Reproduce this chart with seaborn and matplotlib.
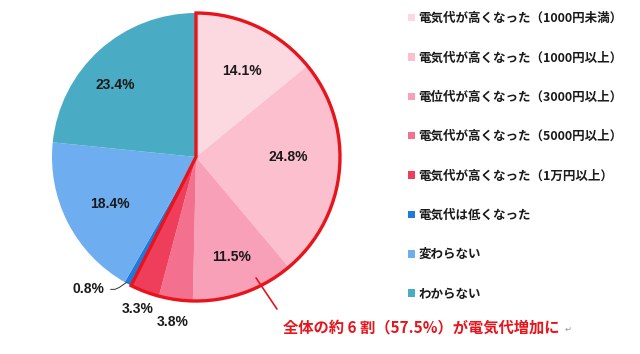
import numpy as np
import matplotlib
matplotlib.use("Agg")
import matplotlib.pyplot as plt
from matplotlib.patches import Wedge
import seaborn as sns

categories = [
    "電気代が高くなった（1000円未満）",
    "電気代が高くなった（1000円以上）",
    "電位代が高くなった（3000円以上）",
    "電気代が高くなった（5000円以上）",
    "電気代が高くなった（1万円以上）",
    "電気代は低くなった",
    "変わらない",
    "わからない",
]
values = [14.1, 24.8, 11.5, 3.8, 3.3, 0.8, 18.4, 23.4]
colors = ["#FCD8E1", "#FBBFCE", "#F8A0B7", "#F4708F", "#EE3E5B",
          "#1E7ADF", "#6EAEF0", "#4AABC5"]
increase_count = 5
annotation = "全体の約 6 割（57.5%）が電気代増加に"

# label placement (radius factor, angle shift in degrees) per slice
label_place = [(0.68, -2.7), (0.64, 5.0), (0.735, 0.0), (1.16, 0.0),
               (1.13, 0.0), None, (0.68, 1.2), (0.75, 6.0)]

sns.set_theme(style="white")
plt.rcParams['font.family'] = ['Noto Sans CJK JP', 'DejaVu Sans']

W, H = 640, 354
fig = plt.figure(figsize=(W / 100, H / 100), dpi=100)
cx, cy, R = 196, 157, 144
ax = fig.add_axes([(cx - R) / W, (H - cy - R) / H, 2 * R / W, 2 * R / H])

wedges, _ = ax.pie(values, colors=colors, startangle=90, counterclock=False,
                   radius=1.0, wedgeprops=dict(linewidth=0))
ax.set_xlim(-1, 1)
ax.set_ylim(-1, 1)
ax.set_aspect("equal")
ax.axis("off")

label_font = dict(family=['Liberation Sans', 'DejaVu Sans'], fontweight='bold',
                  fontsize=10, color='#1a1a1a')

for i, (w, v) in enumerate(zip(wedges, values)):
    mid = (w.theta1 + w.theta2) / 2
    txt = f"{v:.1f}%"
    place = label_place[i]
    if place is None:
        a = np.deg2rad(mid)
        ex, ey = np.cos(a), np.sin(a)
        xs = [ex - 0.01, ex - 0.06, ex - 0.09, ex - 0.12]
        ys = [ey + 0.01, ey - 0.025, ey - 0.038, ey - 0.038]
        ax.plot(xs, ys, color='#333333', lw=0.7, clip_on=False)
        ax.text(xs[-1] - 0.04, ys[-1] + 0.005, txt, ha='right', va='center', **label_font)
    else:
        r, dt = place
        a = np.deg2rad(mid + dt)
        ax.text(r * np.cos(a), r * np.sin(a), txt, ha='center', va='center', **label_font)

# red outline around the "increase" group
thetas = [t for w in wedges[:increase_count] for t in (w.theta1, w.theta2)]
outline = Wedge((0, 0), 1.0, min(thetas), max(thetas), fill=False,
                edgecolor='#E8141B', linewidth=2.4, joinstyle='miter', clip_on=False)
ax.add_patch(outline)

# annotation line
ax.plot([0.417, 0.5625], [-0.84, -1.056], color='#E8141B', lw=1.2, clip_on=False)
fig.text(283 / W, 1 - 327 / H, annotation, color='#E8141B', fontsize=11,
         fontweight='bold', ha='left', va='center')
fig.text(565 / W, 1 - 329 / H, "↵", color='#999999', fontsize=6,
         ha='left', va='center', family=['DejaVu Sans'])

leg = fig.legend(wedges, categories, loc='upper left',
                 bbox_to_anchor=(403 / W, 1 - 7 / H), frameon=False,
                 prop=dict(family=['Noto Sans CJK JP', 'DejaVu Sans'], weight='bold', size=9),
                 handlelength=0.55, handleheight=0.55, handletextpad=0.3,
                 labelspacing=2.11, borderaxespad=0)
for t in leg.get_texts():
    t.set_color('#1a1a1a')

fig.savefig("out.png", dpi=100)
